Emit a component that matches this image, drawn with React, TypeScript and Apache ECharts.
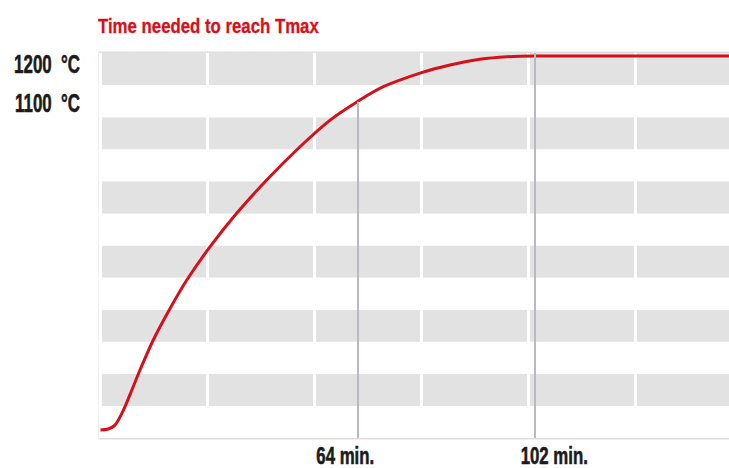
import React, { useEffect, useRef } from "react";
import * as echarts from "echarts";

// Time (min) and temperature (°C)
const timeMin = [8.87, 10.5, 12.0, 13.8, 15.6, 17.35, 20.2, 23.8, 27.4, 32.4, 38.1, 44.55, 51.7, 58.1, 64, 69.6, 77.8, 83.9, 90.3, 96.1, 102, 125, 150];
const tempC = [381.6, 383.8, 392.6, 425.4, 469.1, 512.9, 578.6, 647.5, 709.8, 782.7, 855.8, 928.7, 1001.5, 1059.3, 1100, 1132.8, 1163.5, 1180.3, 1192.8, 1198.5, 1200, 1200, 1200];

const markTimes = [64, 102];
const markTemps = [1100, 1200];
const yLabelValues = [1200, 1100];
const titleText = "Time needed to reach Tmax";

const X_MIN = 8.76;
const X_MAX = 146.6;
const Y_MIN = 364.1;
const Y_MAX = 1206.6;

const FONT = '"Liberation Sans", Arial, sans-serif';
const RED = "#d5101b";
const INK = "#1b1b1b";

export default function App() {
  const ref = useRef<HTMLDivElement>(null);
  useEffect(() => {
    if (!ref.current) return;
    const chart = echarts.init(ref.current, undefined, { renderer: "svg" });
    const data = timeMin.map((t, i) => [t, tempC[i]]);
    chart.setOption({
      animation: false,
      backgroundColor: "#ffffff",
      grid: {
        left: 100,
        right: -13,
        top: 53,
        bottom: 30,
        show: true,
        borderColor: "#dde0df",
        borderWidth: 3,
        backgroundColor: "transparent",
        outerBoundsMode: "none",
        containLabel: false,
      },
      xAxis: [
        {
          type: "value",
          min: X_MIN,
          max: X_MAX,
          axisLine: { show: false },
          axisTick: { show: false },
          splitLine: { show: false },
          axisLabel: { show: false },
        },
        {
          type: "value",
          min: 0,
          max: 6,
          interval: 1,
          z: 1,
          axisLine: { show: false },
          axisTick: { show: false },
          axisLabel: { show: false },
          splitLine: { show: true, lineStyle: { color: "#ffffff", width: 3 } },
        },
      ],
      yAxis: [
        {
          type: "value",
          min: Y_MIN,
          max: Y_MAX,
          axisLine: { show: false },
          axisTick: { show: false },
          splitLine: { show: false },
          axisLabel: { show: false },
        },
        {
          type: "value",
          min: 0,
          max: 12,
          interval: 1,
          z: 0,
          axisLine: { show: false },
          axisTick: { show: false },
          axisLabel: { show: false },
          splitLine: { show: false },
          splitArea: { show: true, areaStyle: { color: ["#ffffff", "#e2e2e2"] } },
        },
      ],
      series: [
        {
          type: "line",
          xAxisIndex: 0,
          yAxisIndex: 0,
          data,
          smooth: 0.3,
          showSymbol: false,
          lineStyle: { color: RED, width: 3 },
          z: 3,
          markLine: {
            silent: true,
            symbol: "none",
            label: { show: false },
            lineStyle: { color: "#b9b9c0", width: 2, type: "solid" },
            data: markTimes.map((t, i) => [
              { coord: [t, i === 1 ? Y_MAX : markTemps[i]] },
              { coord: [t, Y_MIN] },
            ]),
          },
        },
      ],
    });

    // Labels placed from the library's own scales, drawn condensed like the reference
    const yLabelShift = [8, 1.3];
    const xLabelShift = [-12, 20];
    const graphics: any[] = [
      {
        type: "text",
        x: 98,
        y: 25.8,
        scaleX: 0.8,
        style: {
          text: titleText,
          fontFamily: FONT,
          fontWeight: "bold",
          fontSize: 21,
          fill: RED,
          stroke: RED,
          lineWidth: 0.3,
          align: "left",
          verticalAlign: "middle",
        },
      },
    ];
    yLabelValues.forEach((v, i) => {
      const p = chart.convertToPixel({ xAxisIndex: 0, yAxisIndex: 0 }, [X_MIN, v]) as number[];
      graphics.push({
        type: "text",
        x: 80,
        y: p[1] + yLabelShift[i],
        scaleX: 0.65,
        style: {
          text: `${v}  °C`,
          fontFamily: FONT,
          fontWeight: "bold",
          fontSize: 26,
          fill: INK,
          stroke: INK,
          lineWidth: 0.6,
          align: "right",
          verticalAlign: "middle",
        },
      });
    });
    markTimes.forEach((t, i) => {
      const p = chart.convertToPixel({ xAxisIndex: 0, yAxisIndex: 0 }, [t, Y_MIN]) as number[];
      graphics.push({
        type: "text",
        x: p[0] + xLabelShift[i],
        y: p[1] + 17.5,
        scaleX: 0.7,
        style: {
          text: `${t} min.`,
          fontFamily: FONT,
          fontWeight: "bold",
          fontSize: 24,
          fill: INK,
          stroke: INK,
          lineWidth: 0.6,
          align: "center",
          verticalAlign: "middle",
        },
      });
    });
    chart.setOption({ graphic: graphics });
    return () => chart.dispose();
  }, []);
  return (
    <div
      ref={ref}
      style={{ position: "fixed", left: 0, top: 0, width: 729, height: 468, background: "#fff" }}
    />
  );
}
